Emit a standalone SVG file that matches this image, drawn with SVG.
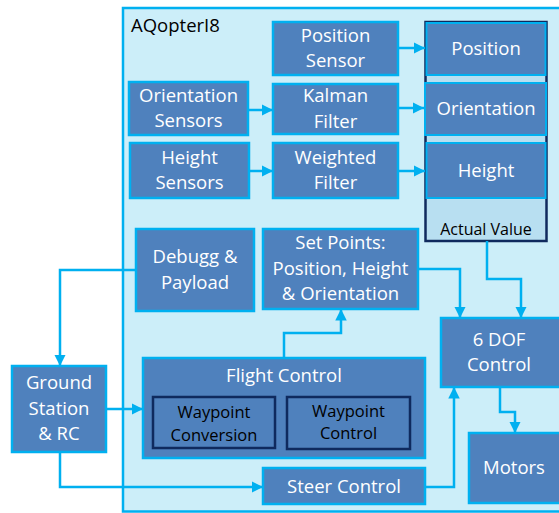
<svg xmlns="http://www.w3.org/2000/svg" width="559" height="513" viewBox="0 0 559 513">
<defs>
<marker id="ah" viewBox="0 0 10 10" refX="10" refY="5" markerWidth="4.6" markerHeight="4.6" markerUnits="strokeWidth" orient="auto"><path d="M0,0 L10,5 L0,10 z" fill="#00B0F0"/></marker>
</defs>
<style>
.box{fill:#4F81BD;stroke:#00B0F0;stroke-width:2.5}
.inner{fill:#4F81BD;stroke:#0F2A5E;stroke-width:2.5}
.t{font-family:"Open Sans","Liberation Sans",sans-serif;font-size:18.5px;fill:#FFFFFF;text-anchor:middle}
.tb{font-family:"Open Sans","Liberation Sans",sans-serif;font-size:16.5px;fill:#000000;text-anchor:middle}
.c{fill:none;stroke:#00B0F0;stroke-width:2.5;marker-end:url(#ah)}
</style>
<rect x="0" y="0" width="559" height="513" fill="#FFFFFF"/>
<g id="container">
<rect x="123" y="8" width="445" height="503.5" fill="#CCEEF9" stroke="#00B0F0" stroke-width="2.5"/>
<text x="131" y="32" font-family="Open Sans, Liberation Sans, sans-serif" font-size="18.5" fill="#000000">AQopterI8</text>
</g>
<g id="actual-value">
<rect x="425.5" y="22" width="121" height="219" fill="#B8DFF1" stroke="#0F2A5E" stroke-width="2.5"/>
<text class="tb" x="486" y="235" style="font-size:16px">Actual Value</text>
</g>
<g id="av-position"><rect class="box" x="426.5" y="23" width="119" height="52" style="stroke-width:2"/><text class="t" x="486" y="55">Position</text></g>
<g id="av-orientation"><rect class="box" x="425" y="83" width="121" height="52" style="stroke-width:2"/><text class="t" x="486" y="115">Orientation</text></g>
<g id="av-height"><rect class="box" x="426.5" y="143" width="119" height="55" style="stroke-width:2"/><text class="t" x="486" y="177">Height</text></g>
<g id="position-sensor"><rect class="box" x="273" y="22" width="125" height="53"/><text class="t" x="335.5" y="42">Position</text><text class="t" x="335.5" y="67">Sensor</text></g>
<g id="orientation-sensors"><rect class="box" x="129" y="82" width="119" height="53"/><text class="t" x="188.5" y="102">Orientation</text><text class="t" x="188.5" y="127">Sensors</text></g>
<g id="kalman-filter"><rect class="box" x="273" y="84" width="125" height="50"/><text class="t" x="335.5" y="102">Kalman</text><text class="t" x="335.5" y="128">Filter</text></g>
<g id="height-sensors"><rect class="box" x="130" y="143" width="119" height="55"/><text class="t" x="189.5" y="164">Height</text><text class="t" x="189.5" y="189">Sensors</text></g>
<g id="weighted-filter"><rect class="box" x="273" y="143" width="125" height="55"/><text class="t" x="335.5" y="164">Weighted</text><text class="t" x="335.5" y="189">Filter</text></g>
<g id="debugg-payload"><rect class="box" x="136" y="229" width="118" height="82"/><text class="t" x="195" y="263">Debugg &amp;</text><text class="t" x="195" y="289">Payload</text></g>
<g id="set-points"><rect class="box" x="263" y="229" width="155" height="80"/><text class="t" x="340.5" y="249">Set Points:</text><text class="t" x="340.5" y="275">Position, Height</text><text class="t" x="340.5" y="300">&amp; Orientation</text></g>
<g id="flight-control"><rect class="box" x="143" y="358" width="282" height="100"/><text class="t" x="284" y="382">Flight Control</text></g>
<g id="waypoint-conversion"><rect class="inner" x="153" y="397" width="122" height="51"/><text class="tb" x="214" y="418">Waypoint</text><text class="tb" x="214" y="441">Conversion</text></g>
<g id="waypoint-control"><rect class="inner" x="287" y="397" width="123" height="52"/><text class="tb" x="348.5" y="417">Waypoint</text><text class="tb" x="348.5" y="439">Control</text></g>
<g id="steer-control"><rect class="box" x="263" y="468" width="162" height="36"/><text class="t" x="344" y="493">Steer Control</text></g>
<g id="ground-station"><rect class="box" x="12" y="366" width="94" height="86"/><text class="t" x="59" y="389">Ground</text><text class="t" x="59" y="415">Station</text><text class="t" x="59" y="440">&amp; RC</text></g>
<g id="six-dof"><rect class="box" x="441" y="318" width="120" height="69"/><text class="t" x="499" y="346">6 DOF</text><text class="t" x="499" y="371">Control</text></g>
<g id="motors"><rect class="box" x="469" y="433" width="92" height="70"/><text class="t" x="514" y="474">Motors</text></g>
<g id="connectors">
<path class="c" d="M398,48 H425"/>
<path class="c" d="M248,110 H273"/>
<path class="c" d="M398,108 H424"/>
<path class="c" d="M249,171 H273"/>
<path class="c" d="M398,171 H425"/>
<path class="c" d="M136,270 H60 V366"/>
<path class="c" d="M106,409 H143"/>
<path class="c" d="M60,452 V487 H263"/>
<path class="c" d="M284,358 V333 H341 V309"/>
<path class="c" d="M418,269 H460 V318"/>
<path class="c" d="M487,241 V279 H521 V318"/>
<path class="c" d="M425,487 H454 V387"/>
<path class="c" d="M500,387 V412 H515 V433"/>
</g>
</svg>
